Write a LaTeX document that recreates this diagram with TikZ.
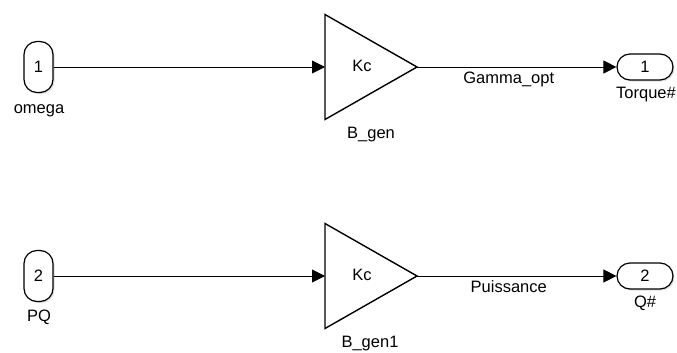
\documentclass[tikz,border=0pt]{standalone}
\usepackage{fontspec}
\setmainfont{Liberation Sans}
\usetikzlibrary{arrows.meta,shadows}
\tikzset{
  port/.style={draw, line width=1.2pt, rounded corners=13pt, fill=white, inner sep=0,
    drop shadow={opacity=0.25, shadow xshift=1.5pt, shadow yshift=-1.5pt}},
  inport/.style={port, minimum width=29pt, minimum height=51pt},
  outport/.style={port, minimum width=56pt, minimum height=26pt},
  gain/.style={draw, line width=1.4pt, line join=miter, fill=white},
  lbl/.style={anchor=base, inner sep=0, font=\fontsize{16.5}{19}\selectfont},
  signal/.style={line width=0.9pt, -{Triangle[length=13pt, width=13pt]}},
}
\begin{document}
\begin{tikzpicture}[x=1pt, y=-1pt]
\useasboundingbox[fill=white] (0,0) rectangle (677,353);
\node[inport] (in1) at (38.5,67){};
\node[lbl] (in1num) at (38.5,72){1};
\node[lbl] (in1lbl) at (39,113){omega};
\coordinate (gain1in) at (325,67);
\coordinate (gain1out) at (417,67);
\draw[gain] (325,14.5) -- (gain1out) -- (325,119.5) -- cycle;
\node[lbl] (gain1k) at (362,71){Kc};
\node[lbl] (gain1lbl) at (371,138){B\_gen};
\node[outport] (out1) at (645,67){};
\node[lbl] (out1num) at (645,72){1};
\node[lbl] (out1lbl) at (646,98){Torque\#};
\draw[signal] (in1.east) -- (gain1in);
\draw[signal] (gain1out) -- node[lbl, pos=0.46, yshift=-16pt]{Gamma\_opt} (out1.west);
\node[inport] (in2) at (38.5,276){};
\node[lbl] (in2num) at (38.5,281){2};
\node[lbl] (in2lbl) at (39,321){PQ};
\coordinate (gain2in) at (325,276);
\coordinate (gain2out) at (417,276);
\draw[gain] (325,223.5) -- (gain2out) -- (325,328.5) -- cycle;
\node[lbl] (gain2k) at (362,280){Kc};
\node[lbl] (gain2lbl) at (370,347){B\_gen1};
\node[outport] (out2) at (645,276){};
\node[lbl] (out2num) at (645,281){2};
\node[lbl] (out2lbl) at (645,307){Q\#};
\draw[signal] (in2.east) -- (gain2in);
\draw[signal] (gain2out) -- node[lbl, pos=0.46, yshift=-16pt]{Puissance} (out2.west);
\end{tikzpicture}
\end{document}
